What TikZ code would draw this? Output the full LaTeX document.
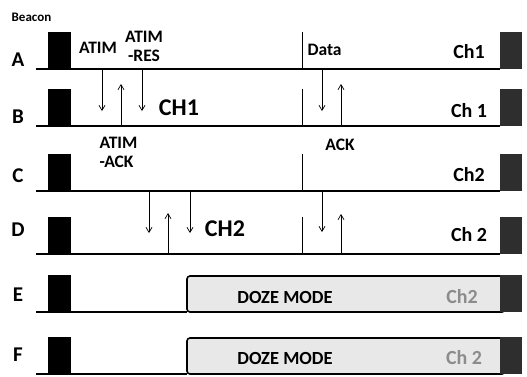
\documentclass[tikz,border=0pt]{standalone}
\usepackage{fontspec}
\setmainfont{Carlito}
\usepackage{tikz}
\usetikzlibrary{arrows.meta}
\newcommand{\balise}[2]{\fill (#1,#2-3.7) rectangle (#1+2.3,#2);}
\newcommand{\canal}[1]{\fill[black!82] (50.0,#1-3.7) rectangle (52.2,#1);}

\begin{document}
\begin{tikzpicture}[x=10pt,y=-10pt,>={Straight Barb[length=5pt,width=6pt]},
  txt/.style={font=\bfseries\fontsize{17.5}{19}\selectfont},
  big/.style={font=\bfseries\fontsize{24}{24}\selectfont},
  chan/.style={font=\bfseries\fontsize{20}{20}\selectfont},
  doze/.style={rounded corners=3pt,line width=1.6pt,fill=black!9}]
  \useasboundingbox (0,0) rectangle (52.7,37.6);

  % lignes de temps des stations
  \node[font=\bfseries\fontsize{13}{13}\selectfont] (beacon) at (3.15,1.7) {Beacon};
  \foreach \s/\y/\ly in {A/6.9/6.0,B/12.6/11.7,C/19.1/17.6,D/25.4/23.0} {
    \node[font=\bfseries\fontsize{21}{21}\selectfont] (l\s) at (1.8,\ly) {\s};
    \draw[line width=1.1pt] (3.6,\y) -- (50.0,\y);
    \draw[line width=0.8pt] (30.2,\y-3.7) -- (30.2,\y);
    \balise{4.8}{\y} \canal{\y}
  }
  \foreach \s/\y/\ly in {E/31.2/29.5,F/37.4/35.5} {
    \node[font=\bfseries\fontsize{21}{21}\selectfont] (l\s) at (1.8,\ly) {\s};
    \draw[line width=1.1pt] (3.6,\y) -- (18.7,\y);
    \draw[doze] (18.7,\y-3.6) rectangle (50.5,\y);
    \balise{4.8}{\y} \canal{\y}
  }

  % echanges ATIM et donnees
  \foreach \x/\ya/\yb [count=\i] in {10.2/6.9/11.1, 12.1/12.6/8.4, 14.2/6.9/11.1,
      32.2/6.9/11.1, 34.1/12.6/8.4, 14.9/19.1/23.3, 16.8/25.4/21.3,
      19.0/19.1/23.3, 32.2/19.1/23.2, 34.1/25.4/21.4} {
    \coordinate (s\i) at (\x,\ya);
    \coordinate (t\i) at (\x,\yb);
    \draw[->,line width=0.7pt] (s\i) -- (t\i);
  }

  % etiquettes
  \node[txt] (atim) at (9.8,4.8) {ATIM};
  \node[txt,align=center] (atimres) at (14.4,4.6) {ATIM\\-RES};
  \node[big] (ch1) at (17.9,10.8) {CH1};
  \node[txt,anchor=west] (data) at (30.4,5.0) {Data};
  \node[chan] (cha) at (46.9,5.2) {Ch1};
  \node[chan] (chb) at (46.9,11.1) {Ch 1};
  \node[txt,align=left,anchor=west] (atimack) at (9.6,15.2) {ATIM\\-ACK};
  \node[txt] (ack) at (34.0,14.5) {ACK};
  \node[chan] (chc) at (46.9,17.5) {Ch2};
  \node[big] (ch2) at (22.5,22.9) {CH2};
  \node[chan] (chd) at (46.9,23.5) {Ch 2};
  \node[font=\bfseries\fontsize{18.5}{18.5}\selectfont] (dozee) at (28.5,29.7) {DOZE MODE};
  \node[chan,text=black!45] (che) at (46.2,29.7) {Ch2};
  \node[font=\bfseries\fontsize{18.5}{18.5}\selectfont] (dozef) at (28.5,35.8) {DOZE MODE};
  \node[chan,text=black!45] (chf) at (46.4,35.8) {Ch 2};
\end{tikzpicture}
\end{document}
